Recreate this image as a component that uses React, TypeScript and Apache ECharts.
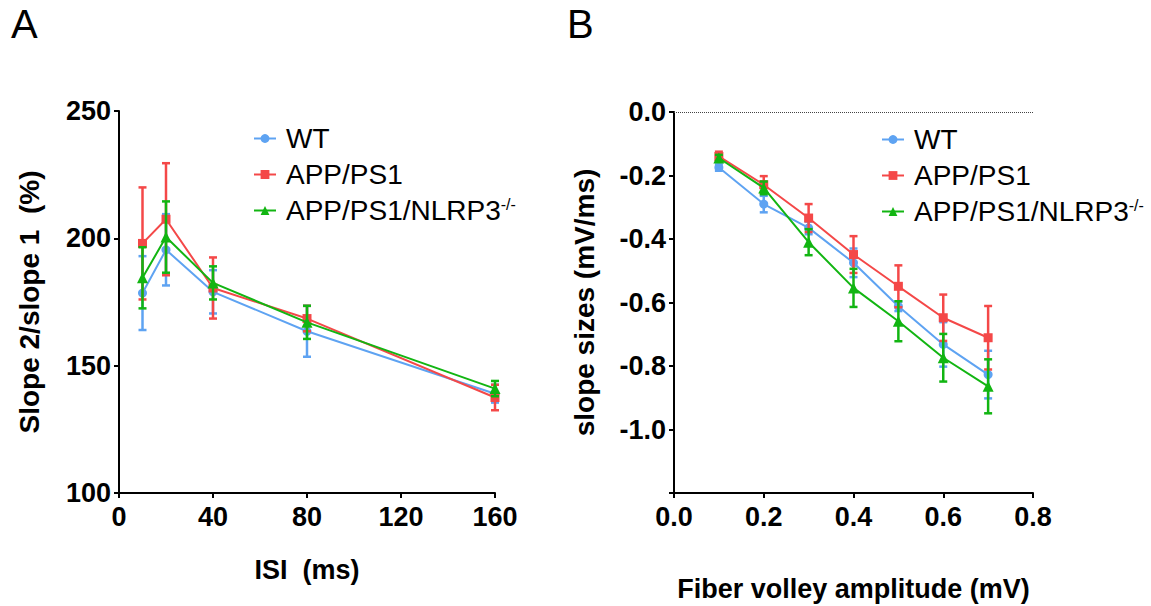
import React, { useEffect, useRef } from "react";
import * as echarts from "echarts";

// ---------- data ----------
const NAMES = ["WT", "APP/PS1", "APP/PS1/NLRP3-/-"];
const COLORS = ["#5ea3f2", "#f44848", "#12b512"];
const SYMBOLS = ["circle", "rect", "triangle"];

// Panel A: paired-pulse ratio vs ISI
const isi = [10, 20, 40, 80, 160];
const wtA = [178.5, 195.5, 179, 163.5, 139];
const wtAErr = [14.5, 14, 8.5, 10, 3.5];
const appA = [198, 207.5, 180.5, 168.5, 137.5];
const appAErr = [22, 22, 12, 5, 5];
const nlrpA = [184.5, 200.5, 182.5, 167, 141];
const nlrpAErr = [12, 14, 6.5, 6.5, 3];

// Panel B: slope vs fiber volley amplitude
const fva = [0.1, 0.2, 0.3, 0.4, 0.5, 0.6, 0.7];
const wtB = [-0.175, -0.29, -0.365, -0.475, -0.612, -0.732, -0.827];
const wtBErr = [0.01, 0.026, 0.02, 0.045, 0.015, 0.07, 0.075];
const appB = [-0.14, -0.229, -0.334, -0.449, -0.549, -0.648, -0.711];
const appBErr = [0.015, 0.027, 0.044, 0.058, 0.066, 0.073, 0.1];
const nlrpB = [-0.145, -0.239, -0.41, -0.554, -0.659, -0.774, -0.864];
const nlrpBErr = [0.01, 0.02, 0.041, 0.06, 0.063, 0.075, 0.085];

const yTicksA = [100, 150, 200, 250];
const xTicksA = [0, 40, 80, 120, 160];

const FONT = "Liberation Sans";

function errRender(color: string) {
  return (params: any, api: any) => {
    const x = api.value(0);
    const lo = api.value(1);
    const hi = api.value(2);
    const pHi = api.coord([x, hi]);
    const pLo = api.coord([x, lo]);
    const cap = 4;
    const style = { stroke: color, lineWidth: 2.5 };
    return {
      type: "group",
      children: [
        { type: "line", shape: { x1: pHi[0], y1: pHi[1], x2: pLo[0], y2: pLo[1] }, style },
        { type: "line", shape: { x1: pHi[0] - cap, y1: pHi[1], x2: pHi[0] + cap, y2: pHi[1] }, style },
        { type: "line", shape: { x1: pLo[0] - cap, y1: pLo[1], x2: pLo[0] + cap, y2: pLo[1] }, style },
      ],
    };
  };
}

function buildSeries(
  xs: number[],
  means: number[][],
  errs: number[][],
  axisIndex: number
) {
  const out: any[] = [];
  means.forEach((m, k) => {
    out.push({
      type: "line",
      name: NAMES[k],
      xAxisIndex: axisIndex,
      yAxisIndex: axisIndex,
      data: xs.map((x, i) => [x, m[i]]),
      symbol: SYMBOLS[k],
      symbolSize: k === 2 ? 11 : 9,
      showSymbol: true,
      itemStyle: { color: COLORS[k] },
      lineStyle: { color: COLORS[k], width: 2 },
      z: 3 + k * 2,
    });
    out.push({
      type: "custom",
      name: NAMES[k] + " err",
      xAxisIndex: axisIndex,
      yAxisIndex: axisIndex,
      data: xs.map((x, i) => [x, m[i] - errs[k][i], m[i] + errs[k][i]]),
      encode: { x: 0, y: [1, 2] },
      renderItem: errRender(COLORS[k]),
      z: 4 + k * 2,
    });
  });
  return out;
}

const axisCommon = {
  axisLine: { show: true, onZero: false, lineStyle: { color: "#000", width: 2 } },
  axisTick: { show: true, inside: false, length: 5, lineStyle: { color: "#000", width: 2 } },
  splitLine: { show: false },
};

const tickLabel = { fontFamily: FONT, fontSize: 27, fontWeight: "bold", color: "#000" };
const titleStyle = { fontFamily: FONT, fontSize: 27, fontWeight: "bold", color: "#000" };

function legendFor(left: number, top: number) {
  return {
    orient: "vertical",
    left,
    top,
    itemGap: 7,
    itemWidth: 22,
    itemHeight: 11,
    data: NAMES,
    formatter: (name: string) =>
      name === NAMES[2] ? "APP/PS1/NLRP3{sup|-/-}" : name,
    textStyle: {
      fontFamily: FONT,
      fontSize: 28,
      color: "#000",
      lineHeight: 29,
      padding: [0, 0, 0, 5],
      rich: {
        sup: { fontFamily: FONT, fontSize: 16, color: "#000", verticalAlign: "top", lineHeight: 15 },
      },
    },
  };
}

export default function App() {
  const ref = useRef<HTMLDivElement>(null);
  useEffect(() => {
    document.body.style.margin = "0";
    if (!ref.current) return;
    const chart = echarts.init(ref.current, undefined, { renderer: "svg" });
    const seriesA = buildSeries(isi, [wtA, appA, nlrpA], [wtAErr, appAErr, nlrpAErr], 0);
    const seriesB = buildSeries(fva, [wtB, appB, nlrpB], [wtBErr, appBErr, nlrpBErr], 1);
    // dotted reference line at y = 0 on panel B
    seriesB[0].markLine = {
      silent: true,
      symbol: ["none", "none"],
      label: { show: false },
      lineStyle: { type: "dotted", color: "#444", width: 1 },
      data: [{ yAxis: 0 }],
    };
    chart.setOption({
      animation: false,
      backgroundColor: "#fff",
      graphic: [
        { type: "text", left: 11, top: 4, style: { text: "A", fontFamily: FONT, fontSize: 40, fill: "#000" } },
        { type: "text", left: 567, top: 4, style: { text: "B", fontFamily: FONT, fontSize: 40, fill: "#000" } },
      ],
      grid: [
        { left: 119, top: 111, width: 376, height: 382, outerBoundsMode: "none" },
        { left: 674, top: 112, width: 359, height: 381, outerBoundsMode: "none" },
      ],
      legend: [legendFor(248, 119), legendFor(876, 120)],
      xAxis: [
        {
          type: "value",
          gridIndex: 0,
          min: xTicksA[0],
          max: xTicksA[xTicksA.length - 1],
          interval: 40,
          ...axisCommon,
          axisLabel: { ...tickLabel, margin: 10 },
          name: "ISI  (ms)",
          nameLocation: "middle",
          nameGap: 63,
          nameTextStyle: titleStyle,
        },
        {
          type: "value",
          gridIndex: 1,
          min: 0,
          max: 0.8,
          interval: 0.2,
          ...axisCommon,
          axisLabel: { ...tickLabel, margin: 10, formatter: (v: number) => v.toFixed(1) },
          name: "Fiber volley amplitude (mV)",
          nameLocation: "middle",
          nameGap: 82,
          nameTextStyle: titleStyle,
        },
      ],
      yAxis: [
        {
          type: "value",
          gridIndex: 0,
          min: yTicksA[0],
          max: yTicksA[yTicksA.length - 1],
          interval: 50,
          ...axisCommon,
          axisLabel: { ...tickLabel, margin: 8 },
          name: "Slope 2/slope 1  (%)",
          nameLocation: "middle",
          nameGap: 76,
          nameTextStyle: { ...titleStyle, fontSize: 28 },
        },
        {
          type: "value",
          gridIndex: 1,
          min: -1.2,
          max: 0,
          interval: 0.2,
          ...axisCommon,
          axisLabel: {
            ...tickLabel,
            margin: 8,
            formatter: (v: number) => (v < -1.1 ? "" : v.toFixed(1)),
          },
          name: "slope sizes (mV/ms)",
          nameLocation: "middle",
          nameGap: 76,
          nameTextStyle: { ...titleStyle, fontSize: 28 },
        },
      ],
      series: [...seriesA, ...seriesB],
    });
    return () => chart.dispose();
  }, []);
  return <div ref={ref} style={{ width: 1151, height: 606 }} />;
}
